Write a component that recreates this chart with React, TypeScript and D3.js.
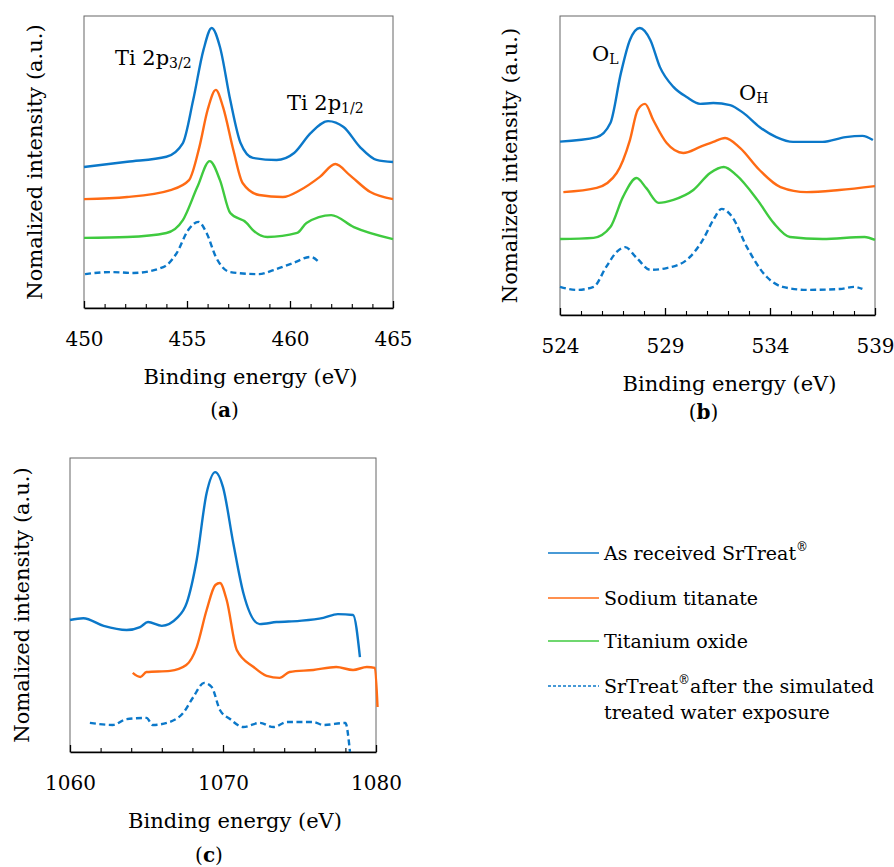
import React, { useEffect, useRef } from 'react';
import * as d3 from 'd3';

const FONT = "'DejaVu Serif', 'Liberation Serif', serif";
const BLUE = '#0b78c9';
const ORANGE = '#ff6b14';
const GREEN = '#3fca3f';

type Pt = [number, number];

// (a) Ti 2p region, binding energy (eV) vs normalized intensity
const tiReceived: Pt[] = [
  [450, 48.3], [452.1, 50.1], [454.0, 51.8], [454.8, 56.5], [455.3, 71.2], [455.8, 88.4],
  [456.2, 95.9], [456.6, 89.4], [457.1, 71.2], [457.6, 56.5], [458.2, 51.4], [459.35, 50.7],
  [460.2, 53.1], [461.0, 59.9], [461.85, 64.0], [462.6, 62.0], [463.4, 55.1], [464.2, 50.7], [465, 50.0],
];
const tiSodium: Pt[] = [
  [450, 37.3], [452.1, 38.0], [454.2, 40.4], [455.1, 43.8], [455.6, 55.1], [456.0, 67.8],
  [456.4, 74.7], [456.75, 68.8], [457.25, 54.1], [457.7, 42.8], [458.5, 38.7], [459.65, 38.0],
  [460.5, 40.4], [461.45, 44.9], [462.2, 49.3], [462.9, 45.5], [463.9, 39.7], [465, 37.3],
];
const tiOxide: Pt[] = [
  [450, 24.0], [452.1, 24.3], [454.0, 25.7], [454.8, 30.1], [455.5, 41.4], [456.1, 50.3],
  [456.6, 43.8], [457.1, 32.5], [457.9, 29.1], [458.2, 26.7], [458.9, 24.3], [460.35, 25.7],
  [460.8, 29.1], [462.0, 31.8], [463.1, 27.7], [465, 23.6],
];
const tiExposed: Pt[] = [
  [450.05, 11.6], [451.3, 12.3], [452.4, 12.0], [453.85, 14.0], [454.5, 18.8], [455.06, 26.7],
  [455.55, 29.5], [455.95, 25.7], [456.4, 17.5], [457.1, 12.3], [458.5, 11.6], [459.2, 13.0],
  [460.15, 15.4], [461.0, 17.5], [461.4, 15.8],
];

// (b) O 1s region
const oReceived: Pt[] = [
  [524, 58.0], [525.75, 59.5], [526.4, 64.2], [526.9, 80.9], [527.33, 92.0], [527.8, 96.0],
  [528.3, 92.0], [528.76, 82.9], [529.4, 76.3], [530.03, 72.9], [530.67, 70.6], [531.3, 70.9],
  [532.1, 70.2], [532.73, 67.6], [533.5, 62.9], [534.3, 59.5], [535.1, 57.9], [536.5, 57.9],
  [537.6, 59.5], [538.4, 59.9], [538.9, 58.5],
];
const oSodium: Pt[] = [
  [524.16, 41.1], [525.75, 42.5], [526.7, 47.5], [527.33, 58.5], [527.7, 68.6], [528.05, 70.6],
  [528.44, 65.2], [529.08, 57.5], [529.87, 54.2], [530.67, 56.2], [531.3, 57.9], [531.86, 59.2],
  [532.57, 55.9], [533.5, 48.5], [534.5, 42.8], [535.75, 41.1], [537.3, 41.8], [539, 43.1],
];
const oOxide: Pt[] = [
  [524, 25.4], [525.6, 25.8], [526.4, 29.4], [527.0, 39.5], [527.65, 45.8], [528.1, 42.5],
  [528.7, 37.5], [529.4, 38.5], [530.35, 41.8], [531.15, 47.5], [531.8, 49.5], [532.4, 46.8],
  [533.4, 38.5], [534.17, 30.8], [534.95, 26.1], [536.5, 25.4], [538.5, 26.1], [539, 25.1],
];
const oExposed: Pt[] = [
  [524, 9.4], [524.8, 8.4], [525.6, 9.4], [526.2, 16.1], [526.7, 21.1], [527.1, 22.7],
  [527.65, 19.1], [528.3, 15.1], [529.08, 15.7], [530.03, 18.4], [530.8, 25.1], [531.3, 31.8],
  [531.7, 35.5], [532.2, 32.8], [532.9, 22.7], [533.85, 12.7], [534.6, 9.4], [535.75, 8.4],
  [537.33, 8.7], [538, 9.4], [538.4, 8.7],
];

// (c) Na 1s region
const naReceived: Pt[] = [
  [1060, 44.9], [1060.87, 45.5], [1062.2, 42.9], [1063.7, 41.5], [1064.58, 42.5], [1065.1, 44.2],
  [1066.0, 42.9], [1067.0, 45.6], [1067.63, 50.7], [1068.28, 65.3], [1068.93, 88.1], [1069.5, 95.2],
  [1070.0, 90.1], [1070.67, 71.1], [1071.33, 54.1], [1072.4, 43.5], [1073.5, 44.2], [1075.0, 44.6],
  [1076.56, 45.6], [1077.5, 46.9], [1078.5, 46.6], [1078.95, 32.3],
];
const naSodium: Pt[] = [
  [1064.1, 26.9], [1064.6, 25.5], [1065.0, 27.2], [1066.54, 27.6], [1067.6, 29.6], [1068.28, 35.7],
  [1068.93, 48.3], [1069.5, 56.8], [1069.8, 57.5], [1070.24, 51.7], [1070.9, 34.7], [1072, 28.9],
  [1072.85, 25.9], [1073.7, 25.2], [1074.35, 27.2], [1075.9, 27.9], [1077.4, 28.9], [1078.5, 27.9],
  [1079.4, 28.9], [1079.93, 28.6], [1080.1, 15.3],
];
const naExposed: Pt[] = [
  [1061.3, 9.9], [1062.8, 9.2], [1063.7, 11.2], [1065, 11.6], [1065.4, 9.2], [1066.5, 10.2],
  [1067.4, 13.3], [1068.06, 18.7], [1068.76, 23.5], [1069.26, 22.1], [1069.8, 14.3], [1070.46, 11.2],
  [1071.33, 8.5], [1072.4, 9.9], [1073.3, 8.5], [1074.2, 10.2], [1075.9, 10.2], [1076.56, 9.2],
  [1078, 9.9], [1078.3, 0],
];

const legendLabels = [
  ['As received SrTreat', '®', ''],
  ['Sodium titanate', '', ''],
  ['Titanium oxide', '', ''],
  ['SrTreat', '®', 'after the simulated'],
];
const legendSecondLine = 'treated water exposure';

interface Series { data: Pt[]; color: string; dashed?: boolean }
interface Note { x: number; y: number; main: string; sub: string }
interface Panel {
  tag: string;
  domain: [number, number];
  major: number[];
  minor: number[];
  left: number; right: number; top: number; bottom: number;
  yLabelX: number;
  tagY: number;
  series: Series[];
  notes: Note[];
}

const panels: Panel[] = [
  {
    tag: 'a', domain: [450, 465], major: [450, 455, 460, 465],
    minor: d3.range(451, 465).filter(v => v % 5 !== 0),
    left: 84, right: 393, top: 16, bottom: 308, yLabelX: 42, tagY: 417,
    series: [
      { data: tiReceived, color: BLUE }, { data: tiSodium, color: ORANGE },
      { data: tiOxide, color: GREEN }, { data: tiExposed, color: BLUE, dashed: true },
    ],
    notes: [
      { x: 451.5, y: 83.2, main: 'Ti 2p', sub: '3/2' },
      { x: 459.85, y: 67.8, main: 'Ti 2p', sub: '1/2' },
    ],
  },
  {
    tag: 'b', domain: [524, 539], major: [524, 529, 534, 539],
    minor: d3.range(525, 539).filter(v => (v - 524) % 5 !== 0),
    left: 560, right: 875, top: 16, bottom: 315, yLabelX: 517, tagY: 419,
    series: [
      { data: oReceived, color: BLUE }, { data: oSodium, color: ORANGE },
      { data: oOxide, color: GREEN }, { data: oExposed, color: BLUE, dashed: true },
    ],
    notes: [
      { x: 525.52, y: 84.9, main: 'O', sub: 'L' },
      { x: 532.52, y: 71.9, main: 'O', sub: 'H' },
    ],
  },
  {
    tag: 'c', domain: [1060, 1080], major: [1060, 1070, 1080],
    minor: d3.range(1062, 1080, 2).filter(v => v % 10 !== 0),
    left: 70, right: 376, top: 458, bottom: 752, yLabelX: 29, tagY: 862,
    series: [
      { data: naReceived, color: BLUE }, { data: naSodium, color: ORANGE },
      { data: naExposed, color: BLUE, dashed: true },
    ],
    notes: [],
  },
];

const App: React.FC = () => {
  const svgRef = useRef<SVGSVGElement | null>(null);

  useEffect(() => {
    if (!svgRef.current) return;
    const svg = d3.select(svgRef.current);
    svg.selectAll('*').remove();

    panels.forEach(p => {
      const x = d3.scaleLinear().domain(p.domain).range([p.left, p.right]);
      const y = d3.scaleLinear().domain([0, 100]).range([p.bottom, p.top]);
      const g = svg.append('g');

      // frame
      g.append('rect')
        .attr('x', p.left).attr('y', p.top)
        .attr('width', p.right - p.left).attr('height', p.bottom - p.top)
        .attr('fill', 'none').attr('stroke', '#666').attr('stroke-width', 1);

      const line = d3.line<Pt>()
        .x(d => x(d[0]))
        .y(d => y(d[1]))
        .curve(d3.curveMonotoneX);

      p.series.forEach(s => {
        g.append('path')
          .datum(s.data)
          .attr('d', line)
          .attr('fill', 'none')
          .attr('stroke', s.color)
          .attr('stroke-width', 2.4)
          .attr('stroke-linejoin', 'round')
          .attr('stroke-dasharray', s.dashed ? '6,3.5' : null);
      });

      // x axis, ticks pointing inwards
      const ax = g.append('g')
        .attr('transform', `translate(0,${p.bottom})`)
        .call(d3.axisBottom(x).tickValues(p.major).tickSize(-7).tickSizeOuter(0)
          .tickPadding(24).tickFormat(d3.format('d')));
      ax.attr('font-family', FONT);
      ax.select('.domain').attr('stroke', '#000').attr('stroke-width', 1.3);
      ax.selectAll('.tick line').attr('stroke', '#000').attr('stroke-width', 1.3);
      ax.selectAll('text').attr('font-family', FONT).attr('font-size', 20).attr('fill', '#000');

      const mn = g.append('g')
        .attr('transform', `translate(0,${p.bottom})`)
        .call(d3.axisBottom(x).tickValues(p.minor).tickSize(-4).tickSizeOuter(0).tickFormat(() => ''));
      mn.select('.domain').remove();
      mn.selectAll('.tick line').attr('stroke', '#000').attr('stroke-width', 1.1);

      const mid = (p.left + p.right) / 2;
      g.append('text')
        .attr('x', mid + 12).attr('y', p.bottom + 76)
        .attr('text-anchor', 'middle')
        .attr('font-family', FONT).attr('font-size', 21)
        .text('Binding energy (eV)');

      g.append('text')
        .attr('transform', `translate(${p.yLabelX},${(p.top + p.bottom) / 2}) rotate(-90)`)
        .attr('text-anchor', 'middle')
        .attr('font-family', FONT).attr('font-size', 21)
        .text('Nomalized intensity (a.u.)');

      const tag = g.append('text')
        .attr('x', mid - 14).attr('y', p.tagY)
        .attr('text-anchor', 'middle')
        .attr('font-family', FONT).attr('font-size', 20);
      tag.append('tspan').text('(');
      tag.append('tspan').attr('font-weight', 'bold').text(p.tag);
      tag.append('tspan').text(')');

      p.notes.forEach(n => {
        const t = g.append('text')
          .attr('x', x(n.x)).attr('y', y(n.y))
          .attr('font-family', FONT).attr('font-size', 21);
        t.append('tspan').text(n.main);
        t.append('tspan').attr('font-size', 14).attr('dy', 3).text(n.sub);
      });
    });

    // legend
    const lg = svg.append('g');
    const rows = [553, 598, 641, 686];
    const styles = [
      { color: BLUE, dashed: false }, { color: ORANGE, dashed: false },
      { color: GREEN, dashed: false }, { color: BLUE, dashed: true },
    ];
    legendLabels.forEach((lab, i) => {
      const cy = rows[i];
      lg.append('line')
        .attr('x1', 548).attr('x2', 599).attr('y1', cy).attr('y2', cy)
        .attr('stroke', styles[i].color).attr('stroke-width', 1.6)
        .attr('stroke-dasharray', styles[i].dashed ? '3,2' : null);
      const t = lg.append('text')
        .attr('x', 604).attr('y', cy + 7)
        .attr('font-family', FONT).attr('font-size', 19);
      t.append('tspan').text(lab[0]);
      if (lab[1]) t.append('tspan').attr('font-size', 12).attr('dy', -9).text(lab[1]);
      if (lab[2]) t.append('tspan').attr('dy', 9).text(lab[2]);
    });
    lg.append('text')
      .attr('x', 604).attr('y', 719)
      .attr('font-family', FONT).attr('font-size', 19)
      .text(legendSecondLine);
  }, []);

  return (
    <div style={{ position: 'absolute', left: 0, top: 0 }}>
      <svg ref={svgRef} width={894} height={867} style={{ display: 'block', background: '#fff' }} />
    </div>
  );
};

export default App;
